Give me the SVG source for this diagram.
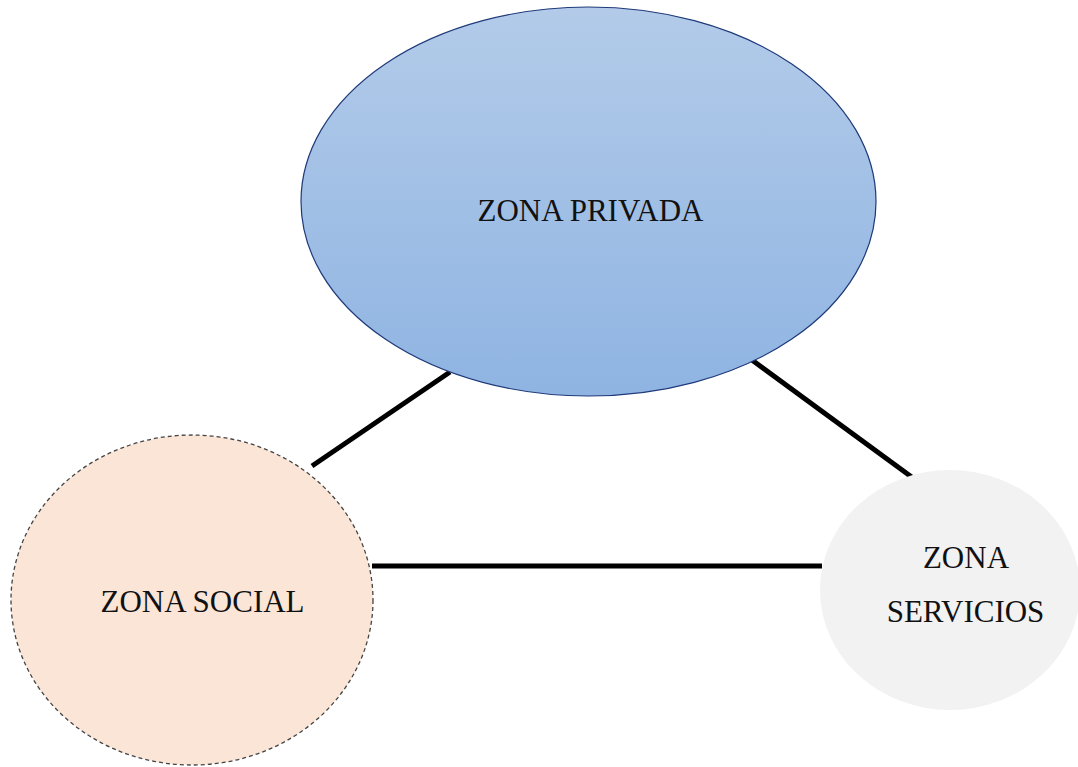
<svg xmlns="http://www.w3.org/2000/svg" width="1078" height="767" viewBox="0 0 1078 767">
<defs>
<linearGradient id="gBlue" x1="0" y1="0" x2="0" y2="1">
<stop offset="0" stop-color="#b3cbe9"/>
<stop offset="1" stop-color="#8fb4e2"/>
</linearGradient>
<style>
.lbl{font-family:"Liberation Serif","Times New Roman",serif;font-size:31px;fill:#111;text-anchor:middle}
.conn{stroke:#000;stroke-width:5;fill:none}
</style>
</defs>
<rect width="1078" height="767" fill="#fff"/>
<g id="connectors">
<line class="conn" x1="312" y1="466" x2="450" y2="372"/>
<line class="conn" x1="752" y1="360" x2="913" y2="478"/>
<line class="conn" x1="372" y1="566" x2="822" y2="566"/>
</g>
<g id="zona-privada">
<ellipse cx="588.5" cy="201.5" rx="287.5" ry="194.5" fill="url(#gBlue)" stroke="#1f3a7a" stroke-width="1.2"/>
<text class="lbl" x="590.5" y="221">ZONA PRIVADA</text>
</g>
<g id="zona-social">
<ellipse cx="192" cy="600" rx="181" ry="165" fill="#fbe5d6" stroke="#444" stroke-width="1.3" stroke-dasharray="4,3"/>
<text class="lbl" x="202.5" y="612">ZONA SOCIAL</text>
</g>
<g id="zona-servicios">
<ellipse cx="950" cy="590" rx="130" ry="120" fill="#f2f2f2"/>
<text class="lbl" x="966" y="568">ZONA</text>
<text class="lbl" x="965.5" y="622">SERVICIOS</text>
</g>
</svg>
